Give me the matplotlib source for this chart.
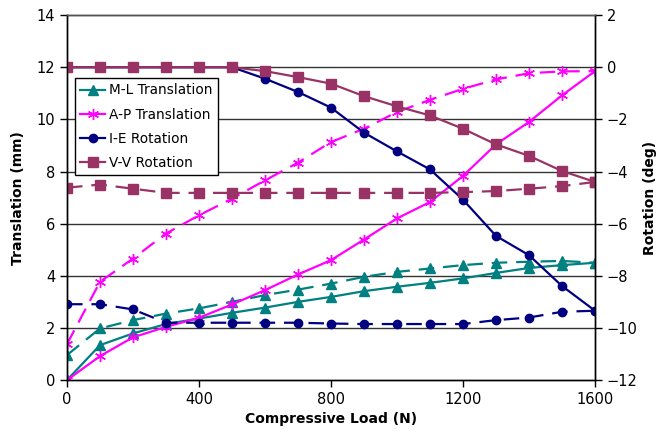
import matplotlib.pyplot as plt
import numpy as np

load = [0, 100, 200, 300, 400, 500, 600, 700, 800, 900, 1000, 1100, 1200, 1300, 1400, 1500, 1600]

# translations (mm), solid and dashed curves
ml_solid = [0, 1.34, 1.79, 2.15, 2.36, 2.58, 2.78, 3.0, 3.19, 3.41, 3.58, 3.73, 3.9, 4.11, 4.3, 4.41, 4.5]
ml_dash = [0.96, 1.98, 2.3, 2.55, 2.75, 3.0, 3.26, 3.47, 3.7, 3.96, 4.15, 4.28, 4.41, 4.5, 4.54, 4.57, 4.5]
ap_solid = [0, 0.92, 1.64, 2.04, 2.39, 2.9, 3.45, 4.05, 4.6, 5.39, 6.2, 6.83, 7.83, 9.04, 9.9, 10.92, 11.85]
ap_dash = [1.38, 3.77, 4.66, 5.62, 6.32, 6.96, 7.66, 8.34, 9.13, 9.64, 10.28, 10.75, 11.17, 11.53, 11.77, 11.84, 11.85]

# rotations (deg)
ie_solid = [0, 0, 0, 0, 0, 0, -0.44, -0.95, -1.55, -2.51, -3.23, -3.92, -5.08, -6.47, -7.21, -8.39, -9.34]
ie_dash = [-9.09, -9.09, -9.29, -9.8, -9.8, -9.8, -9.8, -9.8, -9.83, -9.85, -9.85, -9.85, -9.85, -9.7, -9.6, -9.38, -9.34]
vv_solid = [0, 0, 0, 0, 0, 0, -0.15, -0.38, -0.63, -1.11, -1.5, -1.85, -2.36, -2.96, -3.4, -3.98, -4.4]
vv_dash = [-4.62, -4.5, -4.66, -4.82, -4.82, -4.82, -4.82, -4.82, -4.82, -4.82, -4.82, -4.82, -4.79, -4.75, -4.66, -4.56, -4.4]

teal = "#008080"
pink = "#ff00ff"
navy = "#000080"
plum = "#993366"
star = (6, 2, 0)
dash = (0, (7, 4))

fig = plt.figure(figsize=(6.6, 4.43), dpi=100)
ax = fig.add_axes([0.1015, 0.142, 0.8, 0.824])
ax2 = ax.twinx()

for y in range(2, 14, 2):
    ax.axhline(y, color="#333333", lw=1, zorder=0)

l1, = ax.plot(load, ml_solid, color=teal, marker="^", ms=7, lw=1.6)
ax.plot(load, ml_dash, color=teal, marker="^", ms=7, lw=1.6, ls=dash)
l2, = ax.plot(load, ap_solid, color=pink, marker=star, ms=8, mew=1, lw=1.6)
ax.plot(load, ap_dash, color=pink, marker=star, ms=8, mew=1, lw=1.6, ls=dash)

l3, = ax2.plot(load, ie_solid, color=navy, marker="o", ms=6, lw=1.6)
ax2.plot(load, ie_dash, color=navy, marker="o", ms=6, lw=1.6, ls=dash)
l4, = ax2.plot(load, vv_solid, color=plum, marker="s", ms=6.5, lw=1.6)
ax2.plot(load, vv_dash, color=plum, marker="s", ms=6.5, lw=1.6, ls=dash)

ax.set_xlim(0, 1600)
ax.set_ylim(0, 14)
ax2.set_ylim(-12, 2)
ax.set_xticks(np.arange(0, 1601, 400))
ax.set_yticks(np.arange(0, 15, 2))
ax2.set_yticks(np.arange(-12, 3, 2))

for a in (ax, ax2):
    a.tick_params(labelsize=10.5, width=1, length=5, direction="out")
    for s in a.spines.values():
        s.set_linewidth(1)
ax2.spines["top"].set_color("#555555")

ax.set_xlabel("Compressive Load (N)", fontsize=10, fontweight="bold")
ax.set_ylabel("Translation (mm)", fontsize=10, fontweight="bold", labelpad=8)
ax2.set_ylabel("Rotation (deg)", fontsize=10, fontweight="bold", labelpad=4, rotation=90)

leg = ax2.legend([l1, l2, l3, l4], ["M-L Translation", "A-P Translation", "I-E Rotation", "V-V Rotation"],
                 loc="upper left", bbox_to_anchor=(0.015, 0.828), borderaxespad=0, fontsize=9.8,
                 fancybox=False, framealpha=1, edgecolor="black", handlelength=1.8, handletextpad=0.3,
                 borderpad=0.4, labelspacing=0.75)
leg.get_frame().set_linewidth(1)

fig.savefig("out.png", dpi=100)
